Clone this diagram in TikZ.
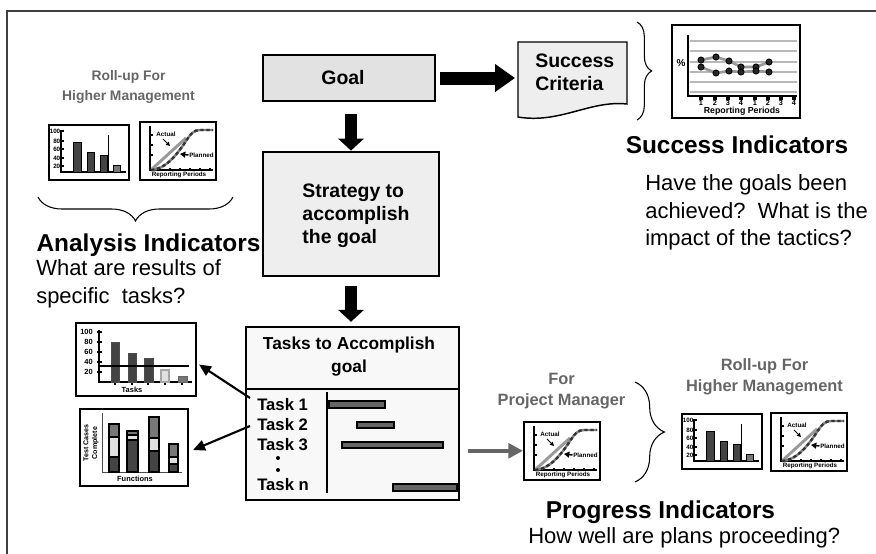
\documentclass[tikz,border=0pt]{standalone}
\usepackage{fontspec}
\setmainfont{Liberation Sans}
\usetikzlibrary{arrows.meta,decorations.pathreplacing,fit}
\definecolor{txtgray}{HTML}{666666}
\definecolor{goalfill}{HTML}{E2E2E2}
\definecolor{boxfill}{HTML}{EEEEEE}
\definecolor{taskfill}{HTML}{F8F8F8}
\definecolor{bardark}{HTML}{444444}
\definecolor{barmid}{HTML}{777777}
\definecolor{barlight}{HTML}{E0E0E0}
\definecolor{ganttfill}{HTML}{666666}
\definecolor{linegray}{HTML}{999999}
\frenchspacing
\newcommand\fHead{\fontsize{18.3pt}{22pt}\selectfont\bfseries}
\newcommand\fBody{\fontsize{16.5pt}{20.6pt}\selectfont}
\newcommand\fBox{\fontsize{14.6pt}{17.4pt}\selectfont\bfseries}
\newcommand\fTaskHead{\fontsize{13pt}{17.3pt}\selectfont\bfseries}
\newcommand\fTaskLbl{\fontsize{12.5pt}{15pt}\selectfont\bfseries}
\newcommand\fGrayA{\fontsize{10.4pt}{15pt}\selectfont\bfseries}
\newcommand\fGrayB{\fontsize{12.3pt}{15.5pt}\selectfont\bfseries}
\newcommand\fTiny{\fontsize{4.7pt}{6pt}\selectfont\bfseries}
\newcommand\fSmall{\fontsize{5.5pt}{7pt}\selectfont\bfseries}
\tikzset{
  flowbox/.style={draw=black, line width=1.1pt, inner sep=0pt},
  chartbox/.style={draw=black, line width=1.5pt, fill=white, inner sep=0pt},
  smallchart/.style={draw=black, line width=1.2pt, fill=white, inner sep=0pt},
  blockarrowh/.style={line width=9.75pt, -{Triangle[length=15pt,width=20pt]}},
  blockarrowv/.style={line width=9pt, -{Triangle[length=9pt,width=19pt]}},
  linkarrow/.style={line width=1.6pt, -{Triangle[length=9pt,width=8pt]}},
  grayarrow/.style={draw=ganttfill, line width=3.3pt, -{Triangle[length=11pt,width=11pt]}},
  bracedeco/.style={decorate, line width=0.8pt},
  gantt/.style={draw=black, line width=0.8pt, fill=ganttfill},
  txt/.style={inner sep=0pt},
  barpic/.pic={
    \node[smallchart, minimum width=60pt, minimum height=41.25pt, anchor=north west] (-box) at (0,0) {};
    \draw[line width=1.1pt] (13,6) -- (13,48) -- (78,48);
    \foreach \yy/\lab/\nm in {7/100/a,17/80/b,25/60/c,34/40/d,42/20/e}{
      \draw[line width=1pt] (13,\yy) -- (15.5,\yy);
      \node[txt, font=\fTiny, anchor=east] (-\nm) at (12.5,\yy) {\lab};
    }
    \filldraw[fill=bardark, draw=black, line width=0.6pt] (25,18) rectangle (33,48);
    \filldraw[fill=bardark, draw=black, line width=0.6pt] (39,28) rectangle (46,48);
    \filldraw[fill=bardark, draw=black, line width=0.6pt] (52,31) rectangle (59,48);
    \filldraw[fill=barmid, draw=black, line width=0.6pt] (65,41) rectangle (72,48);
    \draw[line width=1pt] (60.5,11) -- (60.5,48);
  },
  curvepic/.pic={
    \node[smallchart, minimum width=57pt, minimum height=43.5pt, anchor=north west] (-box) at (0,0) {};
    \draw[line width=0.9pt] (11,5) -- (11,49) -- (74,49);
    \foreach \tt in {21,31,41,51,61,71} \draw[line width=0.9pt] (\tt,49) -- (\tt,46.5);
    \foreach \tt in {14,24,34} \draw[line width=0.9pt] (11,\tt) -- (13.5,\tt);
    \draw[linegray, line width=2.2pt] (13,48) -- (47,17);
    \draw[gray, line width=1.8pt] (12,49) .. controls (26,48) and (36,36) .. (45,23) .. controls (52,12) and (55,9) .. (61,9) -- (74,9);
    \draw[black!80, line width=1.8pt, dash pattern=on 2.5pt off 2pt] (12,49) .. controls (26,48) and (36,36) .. (45,23) .. controls (52,12) and (55,9) .. (61,9) -- (74,9);
    \node[txt, font=\fTiny] (-act) at (27,13) {Actual};
    \draw[line width=0.7pt, -{Triangle[length=3pt,width=3pt]}] (24,18) -- (31,25);
    \node[txt, font=\fTiny, anchor=west] (-pln) at (50,34) {Planned};
    \draw[line width=1.1pt, -{Triangle[length=4pt,width=4.5pt]}] (49.5,34) -- (41,33);
    \node[txt, font=\fTiny] (-rp) at (40,54) {Reporting Periods};
  }
}
\begin{document}
\begin{tikzpicture}[x=0.75pt,y=-0.75pt]
\useasboundingbox (0,0) rectangle (876,554);
% frame
\draw[black!75, line width=1.2pt] (7,554) -- (7,11) -- (876,11);

% Goal / strategy / tasks
\node[flowbox, fill=goalfill, fit={(263,55)(435,101)}] (goal) {};
\node[txt, font=\fBox] (goaltxt) at (343,78) {Goal};
\node[flowbox, fill=boxfill, fit={(263,152)(439,276)}] (strategy) {};
\node[txt, font=\fBox, align=left] (strattxt) at (356,215.5) {Strategy to\\accomplish\\the goal};
\node[draw=black, line width=1.8pt, fill=taskfill, inner sep=0pt, fit={(246,327)(459,500)}] (tasks) {};
\node[txt, font=\fTaskHead, align=center] (taskshead) at (349,356.5) {Tasks to Accomplish\\goal};
\draw[line width=1pt] (246,389) -- (459,389);
\draw[line width=2.2pt] (327,392) -- (327,493);
\node[txt, font=\fTaskLbl, anchor=west] (t1) at (257,405) {Task 1};
\node[txt, font=\fTaskLbl, anchor=west] (t2) at (257,425) {Task 2};
\node[txt, font=\fTaskLbl, anchor=west] (t3) at (257,445) {Task 3};
\fill (278,458) circle[radius=2];
\fill (278,470) circle[radius=2];
\node[txt, font=\fTaskLbl, anchor=west] (tn) at (257,485) {Task n};
\draw[gantt] (329,401) rectangle (385,408);
\draw[gantt] (357,422) rectangle (394,428);
\draw[gantt] (342,442) rectangle (443,448);
\draw[gantt] (393,484) rectangle (457,491);

% Success criteria
\path[draw=black, line width=1.1pt, fill=boxfill] (518,42) -- (627,42) -- (627,104) .. controls (590,100) and (560,124) .. (518,117) -- cycle;
\node[inner sep=0pt, fit={(518,42)(627,118)}] (scbox) {};
\node[txt, font=\fBox, align=left, anchor=west] (sctxt) at (535,72.5) {Success\\Criteria};

% block arrows
\draw[blockarrowh, shorten <=3.5pt, shorten >=2pt] (goal.east) -- (goal.east -| scbox.west);
\draw[blockarrowv, shorten <=9pt, shorten >=0.5pt] (strategy.north |- goal.south) -- (strategy.north);
\draw[blockarrowv, shorten <=6.75pt, shorten >=3pt] (strategy.south) -- (strategy.south |- tasks.north);

% Success indicators chart
\node[chartbox, fit={(672,25)(800,118)}] (sucbox) {};
\foreach \yy in {41,51,62,72,82,92} \draw[linegray!70, line width=1pt] (690,\yy) -- (797,\yy);
\draw[line width=1.5pt] (688,35) -- (688,96) -- (797,96);
\foreach \xx/\nn [count=\i] in {701/1,715/2,728/3,741/4,755/1,768/2,781/3,794/4}{
  \fill (\xx-1.6,96) rectangle (\xx+1.6,99.5);
  \node[txt, font=\fSmall] (sn\i) at (\xx,103) {\nn};
}
\node[txt, font=\fontsize{7.5pt}{9pt}\selectfont\bfseries] (pct) at (681,63) {\%};
\node[txt, font=\fontsize{6.6pt}{8pt}\selectfont\bfseries] (srp) at (742,111.5) {Reporting Periods};
\draw[linegray, line width=2pt] (701,60) -- (716,57) -- (729,61) -- (741,67) -- (756,67) -- (769,62);
\draw[linegray, line width=2pt] (701,67) -- (716,73) -- (729,71) -- (741,72) -- (756,71) -- (769,72);
\foreach \xx/\yy in {701/60,716/57,729/61,741/67,756/67,769/62,701/67,716/73,729/71,741/72,756/71,769/72}
  \filldraw[fill=black!85, draw=black, line width=0.6pt] (\xx,\yy) circle[radius=3.1];

% braces
\draw[bracedeco, decoration={brace, amplitude=11pt}] (637,22) -- (637,120);
\draw[bracedeco, decoration={brace, amplitude=18pt}] (233,197) -- (38,197);
\draw[bracedeco, decoration={brace, amplitude=22pt}] (635,382) -- (635,482);

% top-left roll-up charts
\node[txt, font=\fGrayA, text=txtgray, align=center] (rollA) at (128.5,87) {Roll-up For\\Higher Management};
\pic (lb) at (48,124) {barpic};
\pic (lc) at (139,121) {curvepic};

% headings and texts
\node[txt, font=\fHead] (succind) at (737,145) {Success Indicators};
\node[txt, font=\fBody, align=left, anchor=west] (succtxt) at (645,212.5) {Have the goals been\\achieved?~ What is the\\impact of the tactics?};
\node[txt, font=\fHead] (anaind) at (148.5,245) {Analysis Indicators};
\node[txt, font=\fBody, align=left, anchor=west] (anatxt) at (36,284) {What are results of\\specific~ tasks?};
\node[txt, font=\fHead] (progind) at (660.5,512) {Progress Indicators};
\node[txt, font=\fBody, anchor=west] (progtxt) at (528,538) {How well are plans proceeding?};

% left task charts
\node[chartbox, fit={(76,323)(196,396)}] (l1) {};
\draw[line width=1.5pt] (99,330) -- (99,382) -- (192,382);
\foreach \yy/\lab/\nm in {332/100/a,342/80/b,352/60/c,362/40/d,372/20/e}{
  \draw[line width=1.5pt] (96.5,\yy) -- (101.5,\yy);
  \node[txt, font=\fontsize{5.6pt}{7pt}\selectfont\bfseries, anchor=east] (l1\nm) at (93,\yy) {\lab};
}
\foreach \xx in {115,132,148,165,182} \draw[line width=1.2pt] (\xx,382) -- (\xx,385);
\filldraw[fill=bardark, draw=black!70, line width=0.6pt] (111,342) rectangle (119,382);
\filldraw[fill=bardark, draw=black!70, line width=0.6pt] (128,353) rectangle (136,382);
\filldraw[fill=bardark, draw=black!70, line width=0.6pt] (144,358) rectangle (153,382);
\filldraw[fill=barlight, draw=black!35, line width=1.2pt] (161,370) rectangle (169,382);
\filldraw[fill=barmid, draw=black!60, line width=0.6pt] (178,376) rectangle (187,382);
\draw[line width=1pt] (100,366) -- (189,366);
\node[txt, font=\fontsize{5.6pt}{7pt}\selectfont\bfseries] (l1x) at (132,389.5) {Tasks};

\node[chartbox, fit={(80,409)(188,486)}] (l2) {};
\draw[black!70, line width=0.7pt] (102,413) -- (102,472) -- (182,472);
\node[txt, font=\fontsize{5.3pt}{6.5pt}\selectfont\bfseries, rotate=90, align=center] (l2y) at (91,443) {Test Cases\\Complete};
\node[txt, font=\fontsize{5.6pt}{7pt}\selectfont\bfseries] (l2x) at (135,478.5) {Functions};
\tikzset{stk/.style={draw=black, line width=0.8pt}}
\filldraw[stk, fill=barmid] (109,424) rectangle (119,437);
\filldraw[stk, fill=barlight] (109,437) rectangle (119,457);
\filldraw[stk, fill=bardark] (109,457) rectangle (119,472);
\filldraw[stk, fill=barmid] (127,431) rectangle (138,435);
\filldraw[stk, fill=barlight] (127,435) rectangle (138,440);
\filldraw[stk, fill=bardark] (127,440) rectangle (138,472);
\filldraw[stk, fill=barmid] (149,417) rectangle (159,438);
\filldraw[stk, fill=barlight] (149,438) rectangle (159,451);
\filldraw[stk, fill=bardark] (149,451) rectangle (159,472);
\filldraw[stk, fill=barmid] (169,444) rectangle (178,457);
\filldraw[stk, fill=barlight] (169,457) rectangle (178,464);
\filldraw[stk, fill=bardark] (169,464) rectangle (178,472);

\draw[linkarrow] ([shift={(-7,-7)}]t1.west) -- ([shift={(2,5)}]l1.east);
\draw[linkarrow] ([shift={(-7,1)}]t2.west) -- ([shift={(4,2.5)}]l2.east);

% progress charts
\node[txt, font=\fGrayB, text=txtgray, align=center] (forpm) at (561.5,391) {For\\Project Manager};
\pic (pm) at (523,421) {curvepic};
\draw[grayarrow, shorten <=6pt] (pm-box.west -| tasks.east) -- (pm-box.west);
\node[txt, font=\fGrayB, text=txtgray, align=center] (rollB) at (764.5,377) {Roll-up For\\Higher Management};
\pic (rb) at (681,413) {barpic};
\pic (rc) at (770,412) {curvepic};
\end{tikzpicture}
\end{document}
